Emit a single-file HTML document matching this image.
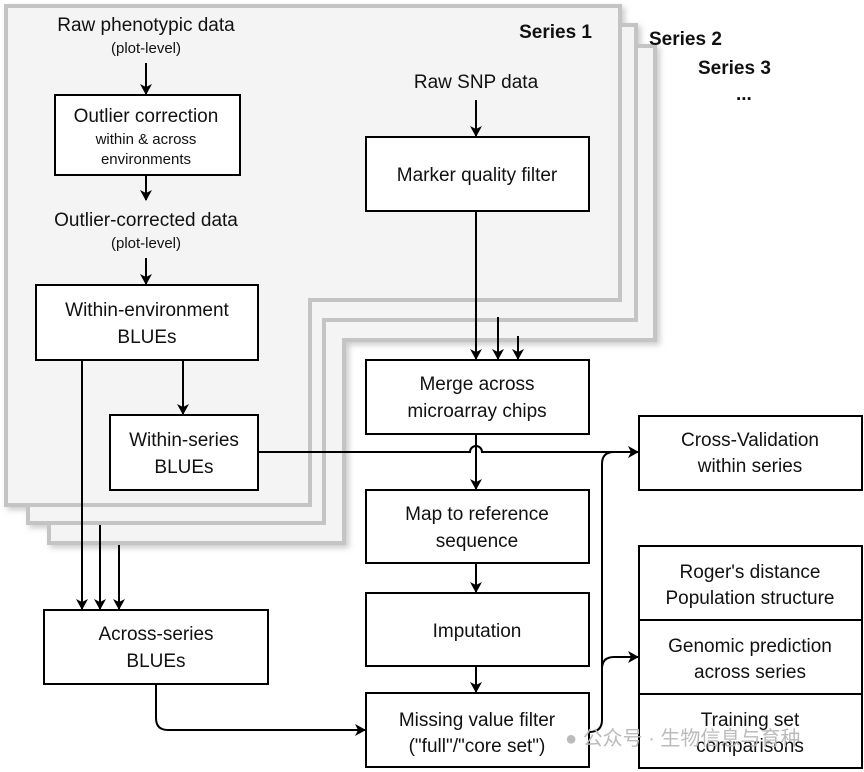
<!DOCTYPE html>
<html><head><style>body{margin:0;background:#fff}svg{display:block}text{font-family:"Liberation Sans",Arial,sans-serif;fill:#111}</style></head><body>
<svg width="864" height="772" viewBox="0 0 864 772" xmlns="http://www.w3.org/2000/svg">
<defs>
<marker id="a" markerWidth="12" markerHeight="12" refX="10" refY="6" orient="auto" markerUnits="userSpaceOnUse"><path d="M0,0 L11,6 L0,12 L3,6 Z" fill="#000"/></marker>
<filter id="sh" x="-5%" y="-5%" width="115%" height="115%"><feDropShadow dx="3" dy="3" stdDeviation="3" flood-color="#999" flood-opacity="0.5"/></filter>
</defs>
<g stroke="#c4c4c4" stroke-width="4" fill="#f4f4f4" filter="url(#sh)">
<path d="M49,46 H655 V340 H344 V543 H49 Z"/>
<path d="M28,25 H636 V320 H324 V523 H28 Z"/>
<path d="M6,6 H620 V300 H310 V505 H6 Z"/>
</g>
<g font-weight="bold" font-size="19">
<text x="592" y="38" text-anchor="end">Series 1</text>
<text x="649" y="45">Series 2</text>
<text x="698" y="74">Series 3</text>
<text x="736" y="100">...</text>
</g>
<g fill="#fff" stroke="#000" stroke-width="2">
<rect x="55" y="95" width="185" height="80"/>
<rect x="36" y="285" width="222" height="75"/>
<rect x="110" y="415" width="148" height="75"/>
<rect x="366" y="137" width="223" height="74"/>
<rect x="366" y="360" width="223" height="74"/>
<rect x="366" y="490" width="223" height="73"/>
<rect x="366" y="593" width="223" height="73"/>
<rect x="366" y="693" width="223" height="74"/>
<rect x="639" y="416" width="223" height="74"/>
<rect x="639" y="546" width="223" height="222"/>
<line x1="639" y1="620" x2="862" y2="620"/>
<line x1="639" y1="694" x2="862" y2="694"/>
<rect x="44" y="610" width="224" height="74"/>
</g>
<g stroke="#000" stroke-width="2" fill="none">
<line x1="146" y1="63" x2="146" y2="94" marker-end="url(#a)"/>
<line x1="146" y1="175" x2="146" y2="200" marker-end="url(#a)"/>
<line x1="146" y1="258" x2="146" y2="284" marker-end="url(#a)"/>
<line x1="183" y1="360" x2="183" y2="414" marker-end="url(#a)"/>
<line x1="476" y1="100" x2="476" y2="136" marker-end="url(#a)"/>
<line x1="476" y1="211" x2="476" y2="359" marker-end="url(#a)"/>
<line x1="498" y1="317" x2="498" y2="359" marker-end="url(#a)"/>
<line x1="518" y1="336" x2="518" y2="359" marker-end="url(#a)"/>
<path d="M476,434 V489" marker-end="url(#a)"/>
<path d="M258,452 H470 A6,6 0 0 1 482,452 H638" marker-end="url(#a)"/>
<line x1="476" y1="563" x2="476" y2="592" marker-end="url(#a)"/>
<line x1="476" y1="666" x2="476" y2="692" marker-end="url(#a)"/>
<line x1="82" y1="360" x2="82" y2="609" marker-end="url(#a)"/>
<line x1="100" y1="525" x2="100" y2="609" marker-end="url(#a)"/>
<line x1="119" y1="545" x2="119" y2="609" marker-end="url(#a)"/>
<path d="M156,684 V718 Q156,730 168,730 H365" marker-end="url(#a)"/>
<path d="M589,732 Q602,732 602,720 V464 Q602,452 614,452"/>
<path d="M602,669 Q602,657 614,657 H638" marker-end="url(#a)"/>
</g>
<g font-size="19" text-anchor="middle">
<text x="146" y="31">Raw phenotypic data</text>
<text x="146" y="53" font-size="15">(plot-level)</text>
<text x="146" y="122">Outlier correction</text>
<text x="146" y="144" font-size="15">within &amp; across</text>
<text x="146" y="164" font-size="15">environments</text>
<text x="146" y="226">Outlier-corrected data</text>
<text x="146" y="248" font-size="15">(plot-level)</text>
<text x="147" y="316">Within-environment</text>
<text x="147" y="343">BLUEs</text>
<text x="184" y="446">Within-series</text>
<text x="184" y="473">BLUEs</text>
<text x="476" y="88">Raw SNP data</text>
<text x="477" y="181">Marker quality filter</text>
<text x="477" y="390">Merge across</text>
<text x="477" y="417">microarray chips</text>
<text x="477" y="520">Map to reference</text>
<text x="477" y="547">sequence</text>
<text x="477" y="637">Imputation</text>
<text x="477" y="726">Missing value filter</text>
<text x="477" y="752">("full"/"core set")</text>
<text x="750" y="446">Cross-Validation</text>
<text x="750" y="472">within series</text>
<text x="750" y="578">Roger's distance</text>
<text x="750" y="604">Population structure</text>
<text x="750" y="652">Genomic prediction</text>
<text x="750" y="678">across series</text>
<text x="750" y="726">Training set</text>
<text x="750" y="752">comparisons</text>
<text x="156" y="640">Across-series</text>
<text x="156" y="667">BLUEs</text>
</g>
<text x="565" y="745" font-size="20" style="fill:#bbb" font-family="'Liberation Sans','Noto Sans CJK SC',sans-serif">● 公众号 · 生物信息与育种</text>
</svg>
</body></html>
